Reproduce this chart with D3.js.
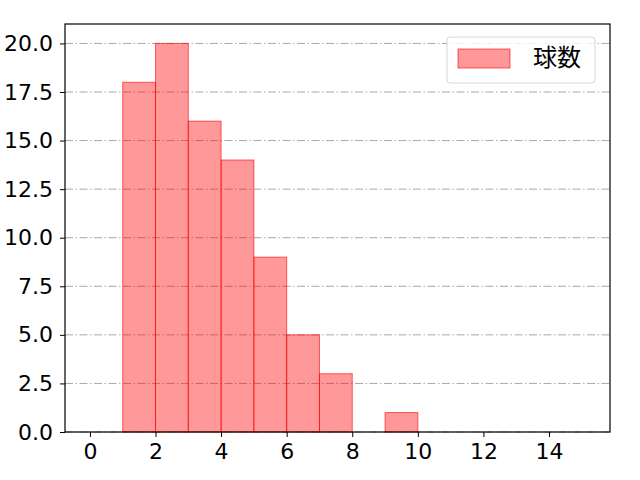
<!DOCTYPE html>
<html>
<head>
<meta charset="utf-8">
<script src="https://cdn.jsdelivr.net/npm/d3@7"></script>
<style>
  body { margin: 0; background: #fff; }
  svg text { font-family: "DejaVu Sans", sans-serif; }
  svg text.legend-label { font-family: "Noto Sans CJK JP", sans-serif; }
</style>
</head>
<body>
<div id="chart"></div>
<script>
// histogram bins (left edge, right edge) and counts
const binStarts = [1, 2, 3, 4, 5, 6, 7, 8, 9];
const binEnds = [2, 3, 4, 5, 6, 7, 8, 9, 10];
const counts = [18, 20, 16, 14, 9, 5, 3, 0, 1];
const xTicks = [0, 2, 4, 6, 8, 10, 12, 14];
const yTicks = [0, 2.5, 5, 7.5, 10, 12.5, 15, 17.5, 20];
const seriesName = '球数';

const width = 640, height = 480;
const margin = { top: 24, right: 30, bottom: 48, left: 65 };
const innerW = width - margin.left - margin.right;
const innerH = height - margin.top - margin.bottom;

const svg = d3.select('#chart').append('svg')
  .attr('width', width)
  .attr('height', height);

const chart = svg.append('g')
  .attr('transform', 'translate(' + margin.left + ',' + margin.top + ')');

const x = d3.scaleLinear().domain([-0.76, 15.86]).range([0, innerW]);
const y = d3.scaleLinear().domain([0, 21]).range([innerH, 0]);

// grid
chart.append('g')
  .selectAll('line')
  .data(yTicks)
  .join('line')
  .attr('x1', 0)
  .attr('x2', innerW)
  .attr('y1', d => y(d))
  .attr('y2', d => y(d))
  .attr('stroke', '#a8a8a8')
  .attr('stroke-width', 1)
  .attr('stroke-dasharray', '8,2.5,1.5,2.5');

// bars
const bins = binStarts.map((s, i) => ({ x0: s, x1: binEnds[i], n: counts[i] }));
chart.append('g')
  .selectAll('rect')
  .data(bins.filter(d => d.n > 0))
  .join('rect')
  .attr('x', d => x(d.x0))
  .attr('y', d => y(d.n))
  .attr('width', d => x(d.x1) - x(d.x0))
  .attr('height', d => y(0) - y(d.n))
  .attr('fill', 'rgba(255,0,0,0.4)')
  .attr('stroke', 'rgba(255,0,0,0.6)')
  .attr('stroke-width', 1);

// axes
const xAxis = d3.axisBottom(x).tickValues(xTicks).tickSize(5).tickPadding(6)
  .tickFormat(d3.format('d'));
const yAxis = d3.axisLeft(y).tickValues(yTicks).tickSize(5).tickPadding(7)
  .tickFormat(d3.format('.1f'));

const gx = chart.append('g')
  .attr('transform', 'translate(0,' + innerH + ')')
  .call(xAxis);
const gy = chart.append('g').call(yAxis);

[gx, gy].forEach(g => {
  g.attr('font-family', null).attr('font-size', null);
  g.select('.domain').remove();
  g.selectAll('.tick line').attr('stroke', '#000').attr('stroke-width', 1);
  g.selectAll('.tick text').attr('fill', '#000').style('font-size', '22px');
});

// frame
chart.append('rect')
  .attr('width', innerW)
  .attr('height', innerH)
  .attr('fill', 'none')
  .attr('stroke', '#000')
  .attr('stroke-width', 1.2);

// legend
const legend = chart.append('g')
  .attr('transform', 'translate(' + (innerW - 163) + ',13)');
legend.append('rect')
  .attr('width', 148)
  .attr('height', 46)
  .attr('rx', 3)
  .attr('fill', 'rgba(255,255,255,0.8)')
  .attr('stroke', '#d6d6d6');
legend.append('rect')
  .attr('x', 11)
  .attr('y', 12)
  .attr('width', 52)
  .attr('height', 19)
  .attr('fill', 'rgba(255,0,0,0.4)')
  .attr('stroke', 'rgba(255,0,0,0.6)');
legend.append('text')
  .attr('class', 'legend-label')
  .attr('x', 86)
  .attr('y', 29)
  .style('font-size', '24px')
  .text(seriesName);
</script>
</body>
</html>
